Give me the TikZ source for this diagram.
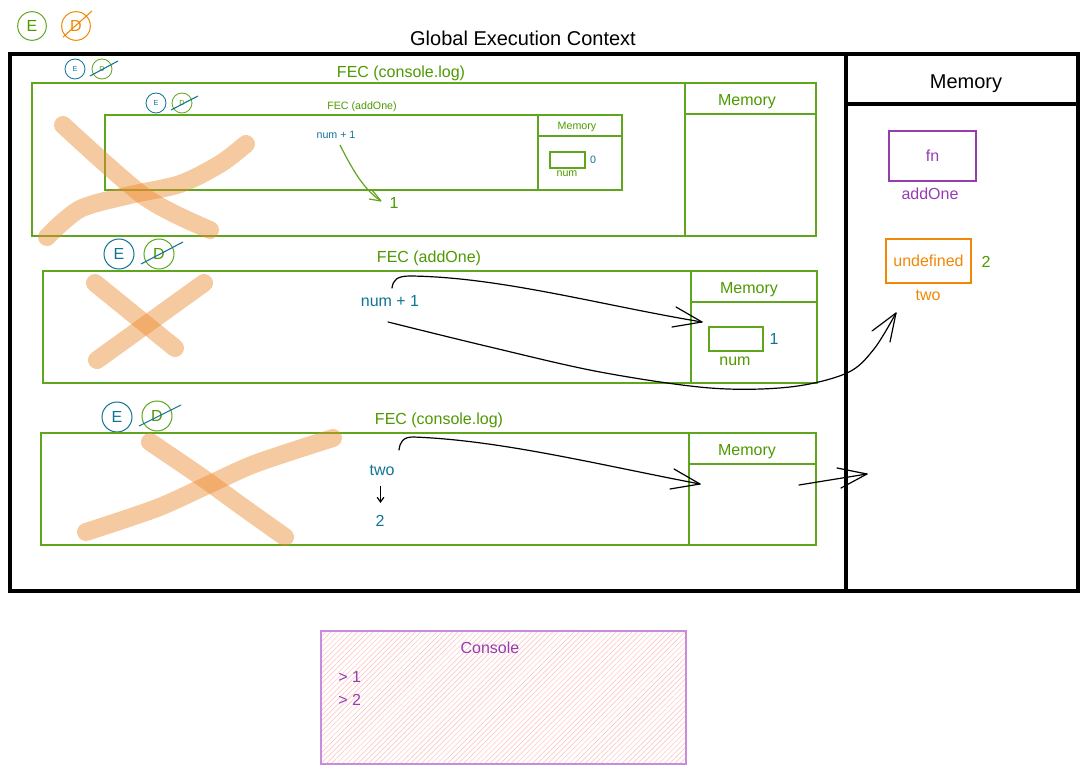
\documentclass[tikz,border=0pt]{standalone}
\usepackage{fontspec}
\setmainfont{Liberation Sans}
\usetikzlibrary{patterns.meta,arrows.meta}
\definecolor{gline}{RGB}{96,165,30}
\definecolor{gtext}{RGB}{77,153,0}
\definecolor{tealc}{RGB}{16,115,150}
\definecolor{orng}{RGB}{240,135,5}
\definecolor{purp}{RGB}{150,60,175}
\definecolor{xorange}{RGB}{236,138,46}
\definecolor{conborder}{RGB}{200,140,220}
\definecolor{hatchc}{RGB}{255,185,185}
\begin{document}
\begin{tikzpicture}[x=0.75pt,y=-0.75pt,
  t16/.style={inner sep=0pt, font=\fontsize{12}{14}\selectfont},
  t11/.style={inner sep=0pt, font=\fontsize{8}{10}\selectfont},
  t20/.style={inner sep=0pt, font=\fontsize{15}{18}\selectfont},
  t6/.style={inner sep=0pt, font=\fontsize{5.5}{7}\selectfont},
  frame/.style={draw=gline, line width=0.8pt},
  ringbig/.style={circle, draw, line width=0.75pt, inner sep=0pt, minimum size=22.5pt, font=\fontsize{12}{14}\selectfont},
  ringtl/.style={circle, draw, line width=0.75pt, inner sep=0pt, minimum size=21.5pt, font=\fontsize{12}{14}\selectfont},
  ringsm/.style={circle, draw, line width=0.65pt, inner sep=0pt, minimum size=15pt, font=\fontsize{5.5}{7}\selectfont},
  slash/.style={line width=0.8pt},
  xmark/.style={draw=xorange, draw opacity=0.45, line width=13.5pt, line cap=round, line join=round},
  sketch/.style={draw=black, line width=0.9pt, line cap=round},
  valbox/.style={draw, line width=0.8pt, inner sep=0pt}
]
\useasboundingbox (0,0) rectangle (1088,773);

% ---------- top-left legend ----------
\node[ringtl, draw=gline, text=gtext] (e0) at (32,26) {E};
\node[ringtl, draw=orng, text=orng] (d0) at (76,26) {D};
\draw[slash, orng] (d0.center) ++(-13,11) -- ++(29,-26);

% ---------- Global Execution Context ----------
\node[t20] (title) at (523,38) {Global Execution Context};
\draw[line width=3pt] (10,54) rectangle (1078,591);
\draw[line width=3pt] (846,54) -- (846,591);
\draw[line width=3pt] (846,104) -- (1078,104);
\node[t20] (gmem) at (966,84) {Memory};

% global memory
\draw[purp, line width=0.8pt] (889,131) rectangle (976,181);
\node[t16, text=purp] (fn) at (932.5,156) {fn};
\node[t16, text=purp] (addone) at (930,194) {addOne};
\draw[orng, line width=0.8pt] (886,239) rectangle (971,283);
\node[t16, text=orng] (undef) at (928.5,261) {undefined};
\node[t16, text=gtext] (two2) at (986,262) {2};
\node[t16, text=orng] (twolbl) at (928,295) {two};

% ---------- FEC (console.log) top ----------
\node[ringsm, draw=tealc, text=tealc] (e1) at (75,69) {E};
\node[ringsm, draw=gline, text=gtext] (d1) at (102,69) {D};
\draw[slash, tealc] (d1.center) ++(-12,7) -- ++(28,-15);
\node[t16, text=gtext] (fec1) at (401,73) {FEC (console.log)};
\draw[frame] (32,83) rectangle (816,236);
\draw[frame] (685,83) -- (685,236);
\draw[frame] (685,114) -- (816,114);
\node[t16, text=gtext] (mem1) at (747,102) {Memory};

% inner FEC (addOne)
\node[ringsm, draw=tealc, text=tealc] (e2) at (156,103) {E};
\node[ringsm, draw=gline, text=gtext] (d2) at (182,103) {D};
\draw[slash, tealc] (d2.center) ++(-11,7) -- ++(27,-14);
\node[t11, text=gtext] (fec2) at (362,107) {FEC (addOne)};
\draw[frame] (105,115) rectangle (622,190);
\draw[frame] (538,115) -- (538,190);
\draw[frame] (538,136) -- (622,136);
\node[t11, text=gtext] (mem2) at (577,127) {Memory};
\draw[frame] (550,152) rectangle (585,168);
\node[t11, text=tealc] (zero) at (593,160) {0};
\node[t11, text=gtext] (num0) at (567,174) {num};
\node[t11, text=tealc] (expr0) at (336,135) {num + 1};
\node[t16, text=gtext] (one0) at (394,203) {1};
\coordinate (a0s) at (340,145);
\coordinate (a0t) at (381,201);
\draw[gline, line width=0.9pt] (a0s) .. controls (355,175) and (366,191) .. (a0t);
\draw[gline, line width=0.9pt] (a0t) -- (372,190) (a0t) -- (369,199);

% ---------- FEC (addOne) ----------
\node[ringbig, draw=tealc, text=tealc] (e3) at (119,254) {E};
\node[ringbig, draw=gline, text=gtext] (d3) at (159,254) {D};
\draw[slash, tealc] (d3.center) ++(-18,10) -- ++(42,-22);
\node[t16, text=gtext] (fec3) at (429,258) {FEC (addOne)};
\draw[frame] (43,271) rectangle (817,383);
\draw[frame] (691,271) -- (691,383);
\draw[frame] (691,302) -- (817,302);
\node[t16, text=gtext] (mem3) at (749,290) {Memory};
\draw[frame] (709,327) rectangle (763,351);
\node[t16, text=tealc] (one1) at (774,339) {1};
\node[t16, text=gtext] (num1) at (735,361) {num};
\node[t16, text=tealc] (expr1) at (390,301) {num + 1};

% ---------- FEC (console.log) bottom ----------
\node[ringbig, draw=tealc, text=tealc] (e4) at (117,417) {E};
\node[ringbig, draw=gline, text=gtext] (d4) at (157,416) {D};
\draw[slash, tealc] (d4.center) ++(-18,10) -- ++(42,-21);
\node[t16, text=gtext] (fec4) at (439,420) {FEC (console.log)};
\draw[frame] (41,433) rectangle (816,545);
\draw[frame] (689,433) -- (689,545);
\draw[frame] (689,464) -- (816,464);
\node[t16, text=gtext] (mem4) at (747,452) {Memory};
\node[t16, text=tealc] (twoexpr) at (382,470) {two};
\node[t16, text=tealc] (twoval) at (380,521) {2};
\draw[black, line width=0.9pt, -{Straight Barb[length=3.5pt,width=5pt]}] (380.5,486) -- (380.5,503);

% ---------- sketched arrows ----------
\coordinate (s1) at (392,288);
\coordinate (t1) at (702,322);
\draw[sketch] (s1) .. controls (393,280) and (397,276) .. (410,276)
  .. controls (500,277) and (600,305) .. (t1);
\draw[sketch] (t1) -- (676,307) (t1) -- (672,327);

\coordinate (s2) at (388,322);
\coordinate (t2) at (896,313);
\draw[sketch] plot[smooth, tension=0.55] coordinates {(s2) (490,347) (600,372) (710,388) (790,387) (847,373) (874,349) (t2)};
\draw[sketch] (t2) -- (872,331) (t2) -- (890,342);

\coordinate (s3) at (399,450);
\coordinate (t3) at (700,484);
\draw[sketch] (s3) .. controls (400,442) and (403,437) .. (413,437)
  .. controls (500,440) and (600,465) .. (t3);
\draw[sketch] (t3) -- (674,469) (t3) -- (670,489);

\coordinate (s4) at (799,485);
\coordinate (t4) at (867,474);
\draw[sketch] (s4) -- (t4);
\draw[sketch] (t4) -- (837,468) (t4) -- (841,488);

% ---------- crossing-out strokes ----------
\draw[xmark] plot[smooth, tension=0.5] coordinates {(63,125) (145,197) (210,230)};
\draw[xmark] plot[smooth, tension=0.5] coordinates {(47,237) (80,209) (130,195) (180,184) (220,164) (246,144)};
\draw[xmark] (95,283) -- (175,348);
\draw[xmark] (97,360) -- (204,283);
\draw[xmark] plot[smooth, tension=0.5] coordinates {(150,442) (200,476) (240,505) (285,537)};
\draw[xmark] plot[smooth, tension=0.5] coordinates {(86,532) (157,508) (210,484) (257,463) (333,438)};

% ---------- Console ----------
\fill[pattern={Lines[angle=45, distance=2.8pt, line width=0.35pt]}, pattern color=hatchc] (321,631) rectangle (686,764);
\draw[conborder, line width=0.8pt] (321,631) rectangle (686,764);
\node[t16, text=purp] (console) at (490,648) {Console};
\node[t16, text=purp, anchor=west] (out1) at (338,677) {> 1};
\node[t16, text=purp, anchor=west] (out2) at (338,700) {> 2};
\end{tikzpicture}
\end{document}
